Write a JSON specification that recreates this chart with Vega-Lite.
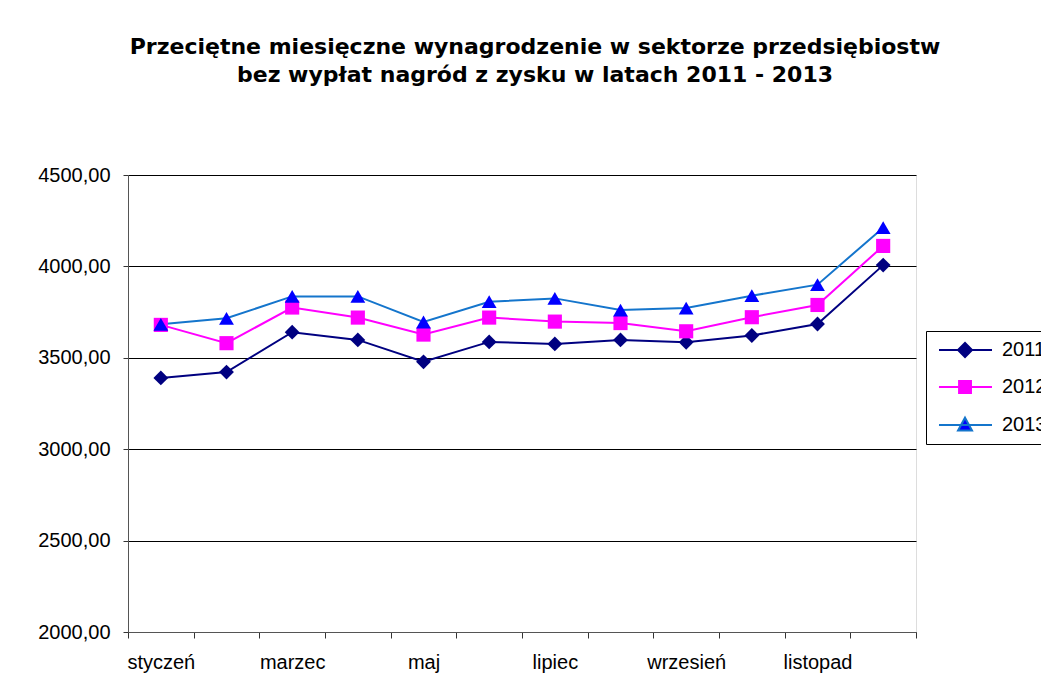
{
  "$schema": "https://vega.github.io/schema/vega-lite/v6.json",
  "width": 788,
  "height": 457,
  "autosize": {"type": "none"},
  "padding": {"left": 128, "top": 175, "right": 125, "bottom": 49},
  "background": "white",
  "title": {
    "text": ["Przeciętne miesięczne wynagrodzenie w sektorze przedsiębiostw", "bez wypłat nagród z zysku w latach 2011 - 2013"],
    "font": "DejaVu Sans",
    "fontSize": 22,
    "fontWeight": "bold",
    "color": "black",
    "anchor": "middle",
    "dx": 13,
    "lineHeight": 28,
    "offset": 78
  },
  "data": {
    "values": [
      {"month": "styczeń", "year": "2011", "value": 3390},
      {"month": "luty", "year": "2011", "value": 3422},
      {"month": "marzec", "year": "2011", "value": 3640},
      {"month": "kwiecień", "year": "2011", "value": 3598},
      {"month": "maj", "year": "2011", "value": 3478},
      {"month": "czerwiec", "year": "2011", "value": 3587},
      {"month": "lipiec", "year": "2011", "value": 3576},
      {"month": "sierpień", "year": "2011", "value": 3598},
      {"month": "wrzesień", "year": "2011", "value": 3585},
      {"month": "październik", "year": "2011", "value": 3622},
      {"month": "listopad", "year": "2011", "value": 3685},
      {"month": "grudzień", "year": "2011", "value": 4007},
      {"month": "styczeń", "year": "2012", "value": 3680},
      {"month": "luty", "year": "2012", "value": 3580},
      {"month": "marzec", "year": "2012", "value": 3775},
      {"month": "kwiecień", "year": "2012", "value": 3720},
      {"month": "maj", "year": "2012", "value": 3627},
      {"month": "czerwiec", "year": "2012", "value": 3720},
      {"month": "lipiec", "year": "2012", "value": 3698},
      {"month": "sierpień", "year": "2012", "value": 3690},
      {"month": "wrzesień", "year": "2012", "value": 3645},
      {"month": "październik", "year": "2012", "value": 3722},
      {"month": "listopad", "year": "2012", "value": 3789},
      {"month": "grudzień", "year": "2012", "value": 4112},
      {"month": "styczeń", "year": "2013", "value": 3683},
      {"month": "luty", "year": "2013", "value": 3716},
      {"month": "marzec", "year": "2013", "value": 3836},
      {"month": "kwiecień", "year": "2013", "value": 3836},
      {"month": "maj", "year": "2013", "value": 3696},
      {"month": "czerwiec", "year": "2013", "value": 3807},
      {"month": "lipiec", "year": "2013", "value": 3825},
      {"month": "sierpień", "year": "2013", "value": 3761},
      {"month": "wrzesień", "year": "2013", "value": 3772},
      {"month": "październik", "year": "2013", "value": 3840},
      {"month": "listopad", "year": "2013", "value": 3900},
      {"month": "grudzień", "year": "2013", "value": 4212}
    ]
  },
  "encoding": {
    "x": {
      "field": "month",
      "type": "nominal",
      "sort": ["styczeń", "luty", "marzec", "kwiecień", "maj", "czerwiec", "lipiec", "sierpień", "wrzesień", "październik", "listopad", "grudzień"],
      "scale": {"type": "band", "paddingInner": 0, "paddingOuter": 0},
      "axis": {
        "title": null,
        "labelAngle": 0,
        "labelFont": "Liberation Sans",
        "labelFontSize": 20,
        "labelColor": "black",
        "labelPadding": 14,
        "labelExpr": "indexof(['styczeń','marzec','maj','lipiec','wrzesień','listopad'], datum.value) >= 0 ? datum.value : ''",
        "tickBand": "extent",
        "tickSize": 6,
        "tickColor": "#333333",
        "domainColor": "#555555",
        "grid": false
      }
    },
    "y": {
      "field": "value",
      "type": "quantitative",
      "scale": {"domain": [2000, 4500], "nice": false, "zero": false},
      "axis": {
        "title": null,
        "values": [2000, 2500, 3000, 3500, 4000, 4500],
        "labelExpr": "replace(format(datum.value, '.2f'), '.', ',')",
        "labelFont": "Liberation Sans",
        "labelFontSize": 20,
        "labelColor": "black",
        "labelPadding": 13,
        "tickSize": 5,
        "tickColor": "#333333",
        "domainColor": "#555555",
        "grid": true,
        "gridColor": "black",
        "gridWidth": 1
      }
    }
  },
  "layer": [
    {
      "mark": {"type": "line", "strokeWidth": 2},
      "encoding": {
        "stroke": {
          "field": "year",
          "type": "nominal",
          "scale": {"domain": ["2011", "2012", "2013"], "range": ["#000080", "#FF00FF", "#1475CC"]},
          "legend": {
            "title": null,
            "orient": "none",
            "legendX": 798,
            "legendY": 156,
            "strokeColor": "black",
            "fillColor": "white",
            "padding": 9,
            "labelFont": "Liberation Sans",
            "labelFontSize": 20,
            "labelColor": "black",
            "labelOffset": 47,
            "symbolSize": 196,
            "symbolStrokeWidth": 2,
            "rowPadding": 16,
            "encode": {
              "symbols": {
                "update": {
                  "shape": {"signal": "datum.value == '2011' ? 'M-0.86,0L6.71,0M1.86,0L2.86,-1L3.86,0L2.86,1Z' : datum.value == '2012' ? 'M-0.86,0L6.71,0M2.01,-0.85L3.71,-0.85L3.71,0.85L2.01,0.85Z' : 'M-0.86,0L6.71,0M2.86,-1.05L3.86,0.8L1.86,0.8Z'"},
                  "stroke": {"signal": "datum.value == '2011' ? '#000080' : datum.value == '2012' ? '#FF00FF' : '#1475CC'"},
                  "fill": {"signal": "datum.value == '2011' ? '#000080' : datum.value == '2012' ? '#FF00FF' : '#0000FF'"},
                  "strokeWidth": {"value": 2},
                  "opacity": {"value": 1}
                }
              }
            }
          }
        }
      }
    },
    {
      "transform": [{"filter": "datum.year == '2011'"}],
      "mark": {"type": "point", "shape": "diamond", "filled": true, "size": 220, "opacity": 1, "color": "#000080"}
    },
    {
      "transform": [{"filter": "datum.year == '2012'"}],
      "mark": {"type": "point", "shape": "square", "filled": true, "size": 200, "opacity": 1, "color": "#FF00FF"}
    },
    {
      "transform": [{"filter": "datum.year == '2013'"}],
      "mark": {"type": "point", "shape": "triangle-up", "filled": true, "size": 220, "opacity": 1, "color": "#0000FF"}
    }
  ]
}
